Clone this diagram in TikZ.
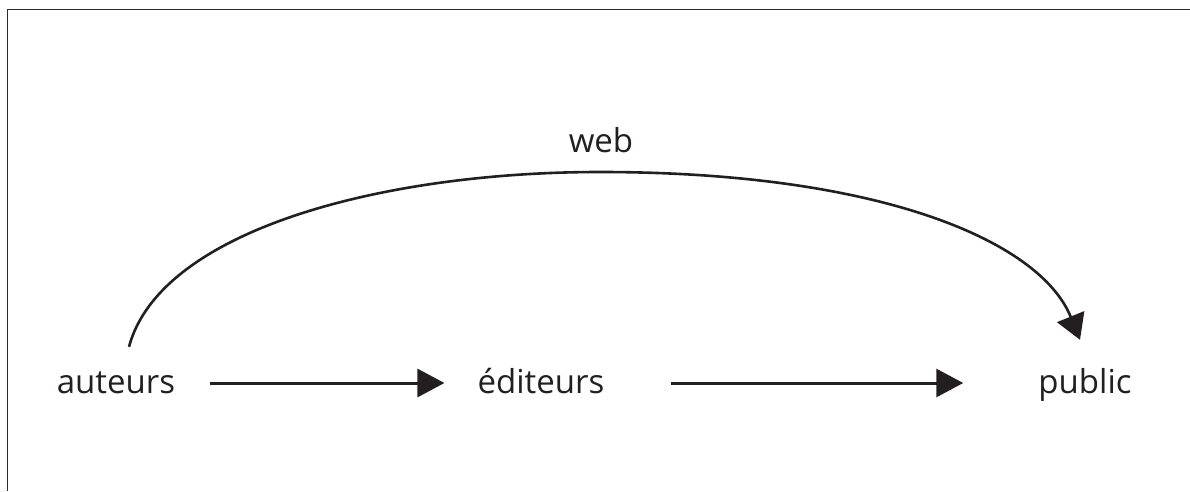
\documentclass[tikz,border=0pt]{standalone}
\usepackage{fontspec}
\setmainfont{Open Sans}
\usetikzlibrary{arrows.meta}
\definecolor{ink}{HTML}{231F20}
\definecolor{frame}{HTML}{2B2B2B}
\tikzset{
  lbl/.style={inner sep=0pt, anchor=base, text=ink, text height=24pt, text depth=4pt,
    font=\fontsize{33}{40}\selectfont},
  arr/.style={draw=ink, line width=3pt, -{Triangle[length=27pt,width=28pt]}},
  curvearr/.style={draw=ink, line width=2.6pt, -{Triangle[length=25pt,width=29pt]}},
  framel/.style={draw=frame, line width=1.8pt}
}
\begin{document}
\begin{tikzpicture}[x=1pt,y=1pt]
\useasboundingbox (0,0) rectangle (1190,491);
\coordinate (tl) at (7.5,481.5);
\coordinate (tr) at (1190,481.5);
\coordinate (bl) at (7.5,0);
\draw[framel] (tr) -- (tl) -- (bl);
\node[lbl] (auteurs) at (116,98) {auteurs};
\node[lbl] (editeurs) at (541,98) {éditeurs};
\node[lbl] (public) at (1085,98) {public};
\node[lbl] (web) at (601,339) {web};
\coordinate (apex) at (600,319);
\draw[arr, shorten <=35pt, shorten >=33pt] (auteurs.east) -- (editeurs.west);
\draw[arr, shorten <=66pt, shorten >=75pt] (editeurs.east) -- (public.west);
\draw[curvearr] ([xshift=13pt,yshift=22pt]auteurs.north)
  .. controls (160,260) and (380,319) .. (apex)
  .. controls (880,319) and (1040,250) .. ([xshift=-5pt,yshift=29pt]public.north);
\end{tikzpicture}
\end{document}
